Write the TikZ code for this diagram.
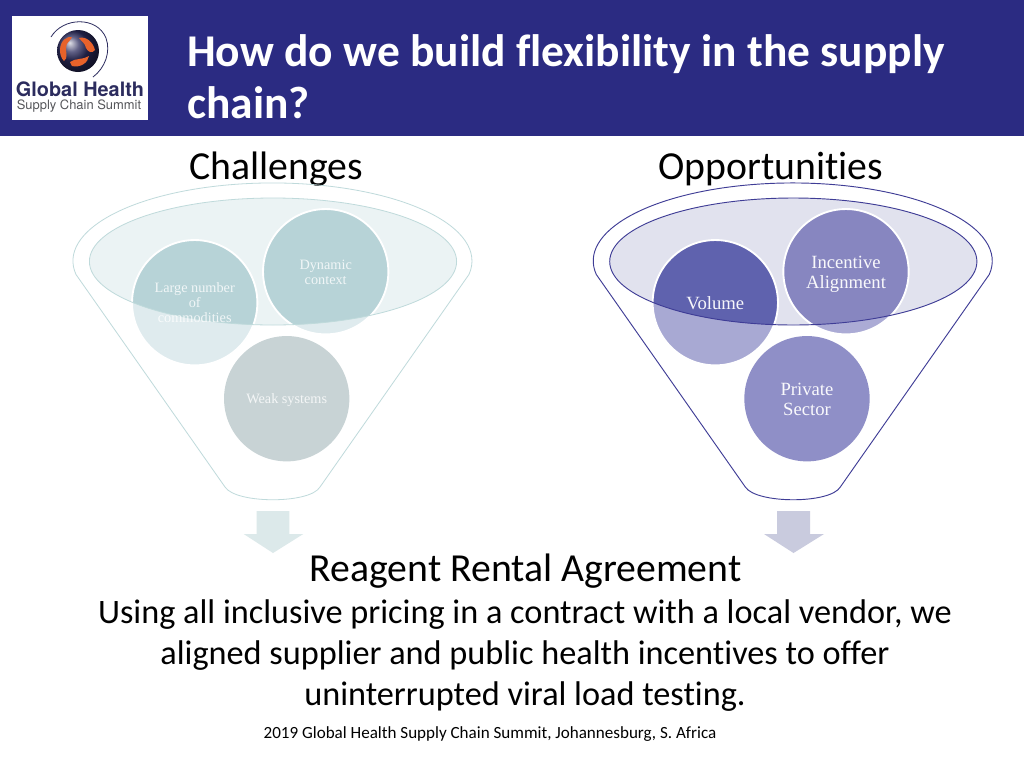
\documentclass[tikz,border=0pt]{standalone}
\usepackage{fontspec}
\setmainfont[Ligatures=NoCommon]{Carlito}
\newfontfamily\serifbody{Liberation Serif}
\newfontfamily\logofont{TeX Gyre Heros}
\definecolor{hdr}{HTML}{2B2B82}
\definecolor{tealline}{HTML}{BFDADB}
\definecolor{tealell}{HTML}{EBF3F4}
\definecolor{tealdark}{HTML}{B7D3D7}
\definecolor{teallight}{HTML}{DFEBEE}
\definecolor{tealgrey}{HTML}{C8D3D5}
\definecolor{tealarrow}{HTML}{DCE9EA}
\definecolor{purpline}{HTML}{3F3D96}
\definecolor{purpell}{HTML}{E1E2EE}
\definecolor{voldark}{HTML}{5F62AE}
\definecolor{vollight}{HTML}{A8A9D3}
\definecolor{incdark}{HTML}{8786C0}
\definecolor{inclight}{HTML}{ABABD5}
\definecolor{privcol}{HTML}{8F8FC7}
\definecolor{purparrow}{HTML}{C9CBDE}
\definecolor{logonavy}{HTML}{2C2C5E}
\definecolor{logogrey}{HTML}{55565A}
\definecolor{logoorange}{HTML}{E8622A}
\tikzset{
  x=0.75pt,y=-0.75pt,
  ball/.style={circle,draw=white,line width=1.4pt,minimum size=94pt,inner sep=0pt,align=center,text=white},
  ballteal/.style={ball},
  ballpurp/.style={ball},
  tealtext/.style={font=\serifbody\fontsize{10.7}{11.4}\selectfont,text=white,text opacity=.8,align=center,inner sep=0pt},
  purptext/.style={font=\serifbody\fontsize{14}{15}\selectfont,text=white,text opacity=.95,align=center,inner sep=0pt},
  tint/.style args={#1 in #2}{path picture={\fill[#1] (#2) ellipse [x radius=183.6,y radius=63.5];}},
  heading/.style={anchor=base,font=\fontsize{29.8}{36}\selectfont,text=black,inner sep=0pt},
  bodyline/.style={anchor=base,font=\fontsize{25.7}{31}\selectfont,text=black,inner sep=0pt},
  titleline/.style={anchor=base west,font=\bfseries\fontsize{34.1}{40}\selectfont,text=white,inner sep=0pt},
}
\begin{document}
\begin{tikzpicture}
\useasboundingbox (0,0) rectangle (1024,768);
\fill[white] (0,0) rectangle (1024,768);
\fill[hdr] (0,0) rectangle (1024,136);
% logo
\fill[white] (12,16) rectangle (148,120);
\draw[logonavy,line width=.6pt] (51,37) .. controls (63,17) and (97,16) .. (106,38) .. controls (111,52) and (105,68) .. (93,77);
\shade[ball color=logonavy] (78,51) circle [radius=21];
\fill[logoorange] (60,50) .. controls (60,40) and (68,36) .. (72,37) .. controls (70,42) and (66,42) .. (66,48) .. controls (66,54) and (68,58) .. (64,61) .. controls (61,58) and (60,54) .. (60,50) -- cycle;
\fill[logoorange] (79,38) .. controls (86,36) and (93,42) .. (95,50) .. controls (92,54) and (88,52) .. (86,48) .. controls (85,43) and (82,42) .. (79,38) -- cycle;
\fill[logoorange] (70,62) .. controls (75,58) and (83,60) .. (89,56) .. controls (88,63) and (80,68) .. (72,66) -- cycle;
\node[anchor=base,inner sep=0pt,text=logonavy,font=\logofont\bfseries\fontsize{14.9}{17}\selectfont] (logoa) at (80,96) {Global Health};
\node[anchor=base,inner sep=0pt,text=logogrey,font=\logofont\fontsize{9.7}{11}\selectfont] (logob) at (79,109) {Supply Chain Summit};
% title
\node[titleline] (t1) at (187,66) {How do we build flexibility in the supply};
\node[titleline] (t2) at (187,118) {chain?};
\node[heading] (hl) at (276.5,179) {Challenges};
\node[heading] (hr) at (771,179) {Opportunities};
% left funnel
\coordinate (el) at (273,261.5);
\coordinate (er) at (793.3,261.5);
\draw[tealline,line width=.6pt] (76,274.5) arc [start angle=170,end angle=370,x radius=199.5,y radius=78]
  -- (320,487) .. controls (310,504) and (236,504) .. (225,487) -- cycle;
\fill[tealell] (el) ellipse [x radius=183.6,y radius=63.5];
\node[ballteal,fill=teallight,tint=tealdark in el] (b1) at (194.7,302.7) {};
\node[ballteal,fill=teallight,tint=tealdark in el] (b2) at (325.7,271.7) {};
\node[ballteal,fill=tealgrey,draw=none] (b3) at (286.7,398.7) {};
\draw[tealline,line width=.6pt] (el) ellipse [x radius=183.6,y radius=63.5];
\node[tealtext] (b1t) at (b1) {Large number\\of\\commodities};
\node[tealtext,yshift=-.6pt] (b2t) at (b2) {Dynamic\\context};
\node[tealtext,yshift=-.7pt] (b3t) at (b3) {Weak systems};
\fill[tealarrow] (256.7,511) -- (289.3,511) -- (289.3,534) -- (303.3,534) -- (273,553) -- (243.7,534) -- (256.7,534) -- cycle;
% right funnel
\draw[purpline,line width=.7pt] (596.3,274.5) arc [start angle=170,end angle=370,x radius=199.5,y radius=78]
  -- (840.3,487) .. controls (830.3,504) and (756.3,504) .. (745.3,487) -- cycle;
\fill[purpell] (er) ellipse [x radius=183.6,y radius=63.5];
\node[ballpurp,fill=vollight,tint=voldark in er] (c1) at (715.3,302.7) {};
\node[ballpurp,fill=inclight,tint=incdark in er] (c2) at (846,271.7) {};
\node[ballpurp,fill=privcol,draw=none] (c3) at (807,398.7) {};
\draw[purpline,line width=.7pt] (er) ellipse [x radius=183.6,y radius=63.5];
\node[purptext] (c1t) at (c1) {Volume};
\node[purptext,yshift=-2pt] (c2t) at (c2) {Incentive\\Alignment};
\node[purptext,yshift=-.7pt] (c3t) at (c3) {Private\\Sector};
\fill[purparrow] (777,511) -- (810,511) -- (810,534) -- (824,534) -- (793.5,553) -- (764,534) -- (777,534) -- cycle;
% bottom text
\node[heading] (r1) at (525.5,581) {Reagent Rental Agreement};
\node[bodyline] (r2) at (525,623) {Using all inclusive pricing in a contract with a local vendor, we};
\node[bodyline] (r3) at (525,664) {aligned supplier and public health incentives to offer};
\node[bodyline] (r4) at (525,705) {uninterrupted viral load testing.};
\node[anchor=base,inner sep=0pt,text=black,font=\fontsize{12.8}{15}\selectfont] (foot) at (490,738) {2019 Global Health Supply Chain Summit, Johannesburg, S. Africa};
\end{tikzpicture}
\end{document}
